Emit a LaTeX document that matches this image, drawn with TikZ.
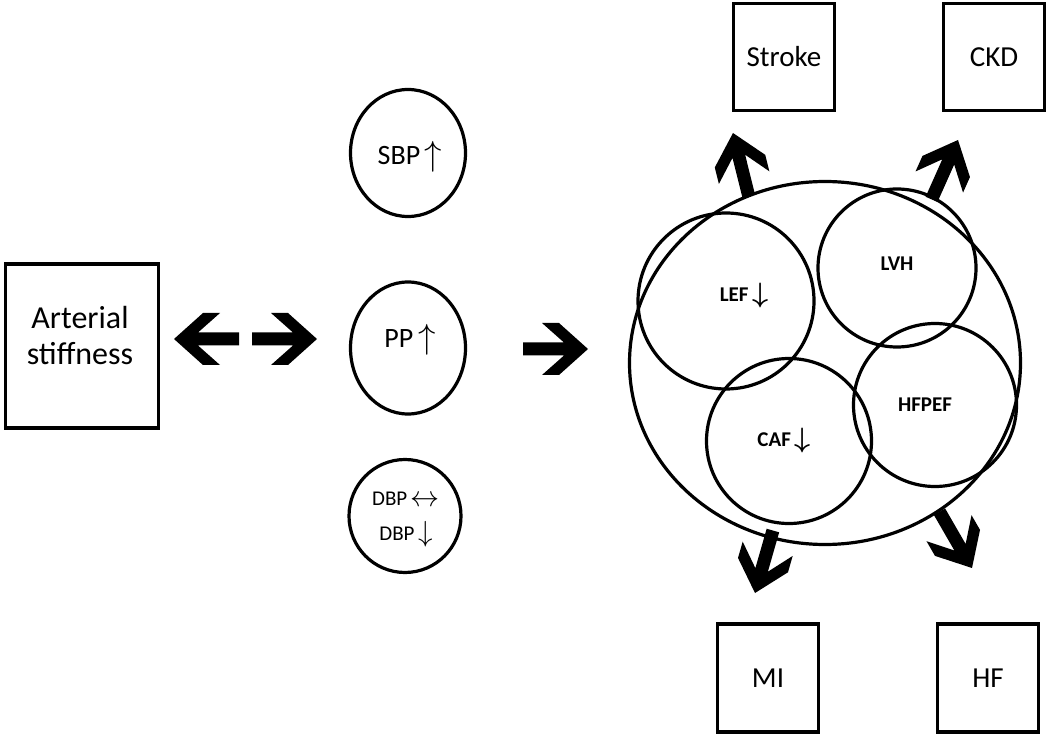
\documentclass[tikz,border=0pt]{standalone}
\usepackage{bm}
\usepackage{graphicx}
\usepackage{fontspec}
\setmainfont{Carlito}
\usetikzlibrary{shapes.geometric}
\newcommand\up{\,\raisebox{-0.1ex}{\scalebox{1.4}{$\uparrow$}}}
\newcommand\dn{\,\raisebox{-0.1ex}{\scalebox{1.4}{$\downarrow$}}}
\newcommand\lr{\,\raisebox{-0.05ex}{\scalebox{1.4}{$\leftrightarrow$}}}
\newcommand\bdn{\,\raisebox{-0.1ex}{\scalebox{1.35}{$\bm{\downarrow}$}}}
\begin{document}
\begin{tikzpicture}[x=1pt,y=1pt,
  box/.style={draw, line width=3.4pt, rectangle, inner sep=0pt},
  oval/.style={draw, line width=3.2pt, ellipse, inner sep=0pt},
  boxtxt/.style={align=center, font=\fontsize{29}{36}\selectfont},
  bigtxt/.style={font=\fontsize{28}{30}\selectfont},
  smalltxt/.style={align=center, font=\fontsize{21}{35}\selectfont},
  boldtxt/.style={font=\fontsize{21}{24}\selectfont\bfseries},
  chev/.pic={\fill[black] (0,0) -- (-29,26) -- (-46,26) -- (-24,6.5) -- (-65,6.5)
     -- (-65,-6.5) -- (-24,-6.5) -- (-46,-26) -- (-29,-26) -- cycle;}
]
\useasboundingbox (0,0) rectangle (1050,-735);

% boxes
\node[box, minimum width=153, minimum height=164] (as) at (82,-346) {};
\node[boxtxt, font=\fontsize{32}{36}\selectfont] (ast) at (80,-336) {Arterial\\stiffness};
\node[box, minimum width=101, minimum height=107] (stroke) at (784,-57) {};
\node[boxtxt] (strt) at (784,-57) {Stroke};
\node[box, minimum width=101, minimum height=107] (ckd) at (994,-57) {};
\node[boxtxt] (ckdt) at (994,-57) {CKD};
\node[box, minimum width=101, minimum height=108] (mi) at (768,-678) {};
\node[boxtxt] (mit) at (768,-678) {MI};
\node[box, minimum width=101, minimum height=108] (hf) at (988,-678) {};
\node[boxtxt] (hft) at (988,-678) {HF};

% left ovals
\node[oval, minimum width=115, minimum height=127] (sbp) at (408,-153) {};
\node[bigtxt] (sbpt) at (410,-157) {SBP\up};
\node[oval, minimum width=115, minimum height=132] (pp) at (408,-348) {};
\node[bigtxt] (ppt) at (410,-340) {PP\up};
\node[oval, minimum width=112, minimum height=113] (dbp) at (405,-516) {};
\node[smalltxt] (dbpt) at (406,-520) {DBP\lr\\DBP\dn};

% big ellipse and inner circles
\node[oval, minimum width=391, minimum height=363] (big) at (825,-363) {};
\node[oval, minimum size=176] (lef) at (726,-301) {};
\node[boldtxt] (left) at (744,-296) {LEF\bdn};
\node[oval, minimum size=158] (lvh) at (897,-268) {};
\node[boldtxt] (lvht) at (897,-264) {LVH};
\node[oval, minimum size=163] (hfpef) at (935,-405) {};
\node[boldtxt] (hfpeft) at (925,-405) {HFPEF};
\node[oval, minimum size=165] (caf) at (789,-441) {};
\node[boldtxt] (caft) at (784,-441) {CAF\bdn};

% block arrows
\pic[rotate=180] at (174,-339) {chev};
\pic at (317,-339) {chev};
\pic at (588,-349) {chev};
\pic[rotate=104] at (733,-133) {chev};
\pic[rotate=66] at (958,-140) {chev};
\pic[rotate=-106] at (755,-593) {chev};
\pic[rotate=-60] at (972,-568) {chev};
\end{tikzpicture}
\end{document}
